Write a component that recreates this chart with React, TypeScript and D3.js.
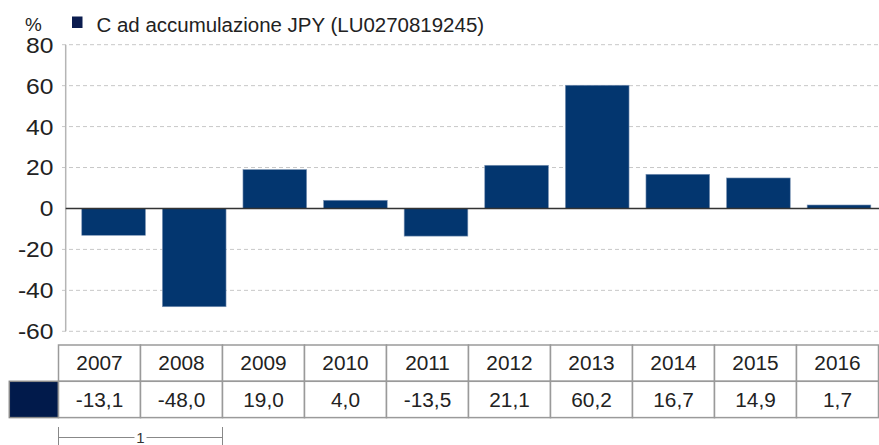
import React from "react";
import * as d3 from "d3";

const categories = ["2007", "2008", "2009", "2010", "2011", "2012", "2013", "2014", "2015", "2016"];
const values = [-13.1, -48.0, 19.0, 4.0, -13.5, 21.1, 60.2, 16.7, 14.9, 1.7];
const yTicks = [80, 60, 40, 20, 0, -20, -40, -60];
const seriesName = "C ad accumulazione JPY (LU0270819245)";
const unitLabel = "%";
const footnoteLabel = "1";

const W = 879;
const H = 445;
const FONT = "'Liberation Sans', Arial, Helvetica, sans-serif";

type TProps = {
  x: number;
  y: number;
  sx?: number;
  size: number;
  anchor?: "start" | "middle" | "end";
  dy?: string;
  fill?: string;
  children: React.ReactNode;
};

function T({ x, y, sx = 1, size, anchor = "start", dy, fill = "#222", children }: TProps) {
  return (
    <text
      transform={`translate(${x},${y}) scale(${sx},1)`}
      fontSize={size}
      textAnchor={anchor}
      dy={dy}
      fill={fill}
      stroke="none"
    >
      {children}
    </text>
  );
}

export default function App() {
  const y = d3.scaleLinear().domain([-60, 80]).range([331.3, 44.7]);
  const x = d3
    .scaleBand<string>()
    .domain(categories)
    .range([73.3, 879.3])
    .paddingInner(0.21)
    .paddingOuter(0.105);
  const col = d3.scaleBand<string>().domain(categories).range([58.5, 878.5]);
  const axisX = 65.7;
  const tableTop = 345;
  const rowH = 36.3;
  const fmt = (v: number) => v.toFixed(1).replace(".", ",");

  return (
    <svg
      width={W}
      height={H}
      style={{ position: "absolute", left: 0, top: 0, background: "#fff" }}
      fontFamily={FONT}
    >
      {/* unit label */}
      <T x={25} y={31} size={18} sx={1.05}>
        {unitLabel}
      </T>
      {/* legend */}
      <rect x={72} y={16.5} width={10.5} height={11.5} fill="#0b1c4f" />
      <T x={96.5} y={31.5} size={19.5} sx={1.05}>
        {seriesName}
      </T>

      {/* gridlines */}
      {yTicks
        .filter((t) => t !== 0)
        .map((t) => (
          <line
            key={"g" + t}
            x1={62}
            x2={879}
            y1={y(t)}
            y2={y(t)}
            stroke="#c8c8c8"
            strokeWidth={1}
            strokeDasharray="4 3"
          />
        ))}
      {/* y tick labels */}
      {yTicks.map((t) => (
        <T key={"t" + t} x={53.5} y={y(t)} dy="0.36em" anchor="end" size={22} sx={1.12}>
          {t}
        </T>
      ))}
      {/* y axis line */}
      <line x1={axisX} x2={axisX} y1={y(80)} y2={y(-60)} stroke="#b5b5b5" strokeWidth={1.5} />

      {/* bars */}
      {values.map((v, i) => {
        const c = categories[i];
        const y0 = y(0);
        const y1 = y(v);
        return (
          <rect
            key={c}
            x={x(c)!}
            width={x.bandwidth()}
            y={Math.min(y0, y1)}
            height={Math.abs(y1 - y0)}
            fill="#03366f"
            stroke="#7d95b5"
            strokeWidth={0.6}
          />
        );
      })}
      {/* zero line */}
      <line x1={axisX} x2={879} y1={y(0)} y2={y(0)} stroke="#333" strokeWidth={1.5} />

      {/* table */}
      <rect
        x={9.3}
        y={tableTop + rowH}
        width={col.range()[0] - 9.3}
        height={rowH}
        fill="#011a4b"
        stroke="#8a8a8a"
        strokeWidth={1.5}
      />
      {categories.map((c, i) => (
        <g key={"tc" + c}>
          <rect x={col(c)!} y={tableTop} width={col.bandwidth()} height={rowH} fill="#fff" stroke="#9a9a9a" strokeWidth={1.5} />
          <rect x={col(c)!} y={tableTop + rowH} width={col.bandwidth()} height={rowH} fill="#fff" stroke="#9a9a9a" strokeWidth={1.5} />
          <T x={col(c)! + col.bandwidth() / 2} y={tableTop + rowH / 2} dy="0.36em" anchor="middle" size={20} sx={1.04}>
            {c}
          </T>
          <T x={col(c)! + col.bandwidth() / 2} y={tableTop + rowH * 1.5} dy="0.36em" anchor="middle" size={20} sx={1.04}>
            {fmt(values[i])}
          </T>
        </g>
      ))}

      {/* footnote bracket */}
      {(() => {
        const x0 = col(categories[0])!;
        const x1 = col(categories[1])! + col.bandwidth();
        const ly = 437.5;
        const mid = (x0 + x1) / 2;
        return (
          <g stroke="#888" strokeWidth={1}>
            <line x1={x0} x2={x0} y1={427} y2={445} />
            <line x1={x1} x2={x1} y1={427} y2={445} />
            <line x1={x0} x2={mid - 6} y1={ly} y2={ly} />
            <line x1={mid + 6} x2={x1} y1={ly} y2={ly} />
            <T x={mid} y={ly} dy="0.36em" anchor="middle" size={15} fill="#333">
              {footnoteLabel}
            </T>
          </g>
        );
      })()}
    </svg>
  );
}
